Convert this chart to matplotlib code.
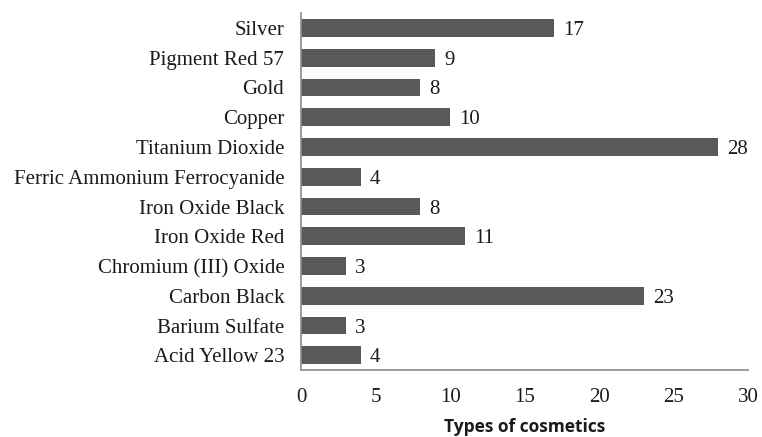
import matplotlib
matplotlib.use("Agg")
import matplotlib.pyplot as plt

pigments = ["Acid Yellow 23", "Barium Sulfate", "Carbon Black", "Chromium (III) Oxide",
            "Iron Oxide Red", "Iron Oxide Black", "Ferric Ammonium Ferrocyanide",
            "Titanium Dioxide", "Copper", "Gold", "Pigment Red 57", "Silver"]
counts = [4, 3, 23, 3, 11, 8, 4, 28, 10, 8, 9, 17]
xticks = [0, 5, 10, 15, 20, 25, 30]

plt.rcParams['font.family'] = ['Liberation Serif', 'DejaVu Serif']

fig = plt.figure(figsize=(7.62, 4.37), dpi=100)
ax = fig.add_axes([0.395, 0.153, 0.587, 0.817])

pos = range(len(pigments))
ax.barh(pos, counts, height=0.6, color="#595959")
for y, v in zip(pos, counts):
    ax.text(v + 0.6, y, str(v), va="center_baseline", ha="left", fontsize=15, color="#1a1a1a")

ax.set_yticks(list(pos))
ax.set_yticklabels(pigments, fontsize=15, color="#1a1a1a", va="center_baseline")
ax.set_xticks(xticks)
ax.set_xticklabels([str(t) for t in xticks], fontsize=15, color="#1a1a1a")
ax.set_xlim(0, 30)
ax.set_ylim(-0.5, 11.5)
ax.tick_params(length=0)
ax.tick_params(axis="x", pad=13)
ax.tick_params(axis="y", pad=12)

for s in ["top", "right"]:
    ax.spines[s].set_visible(False)
for s in ["left", "bottom"]:
    ax.spines[s].set_color("#8c8c8c")
    ax.spines[s].set_linewidth(1.2)

ax.set_xlabel("Types of cosmetics", fontsize=12.5, fontweight="bold",
              family=["Open Sans", "DejaVu Sans"], color="#1a1a1a", labelpad=8)

fig.savefig("out.png", dpi=100, facecolor="white")
